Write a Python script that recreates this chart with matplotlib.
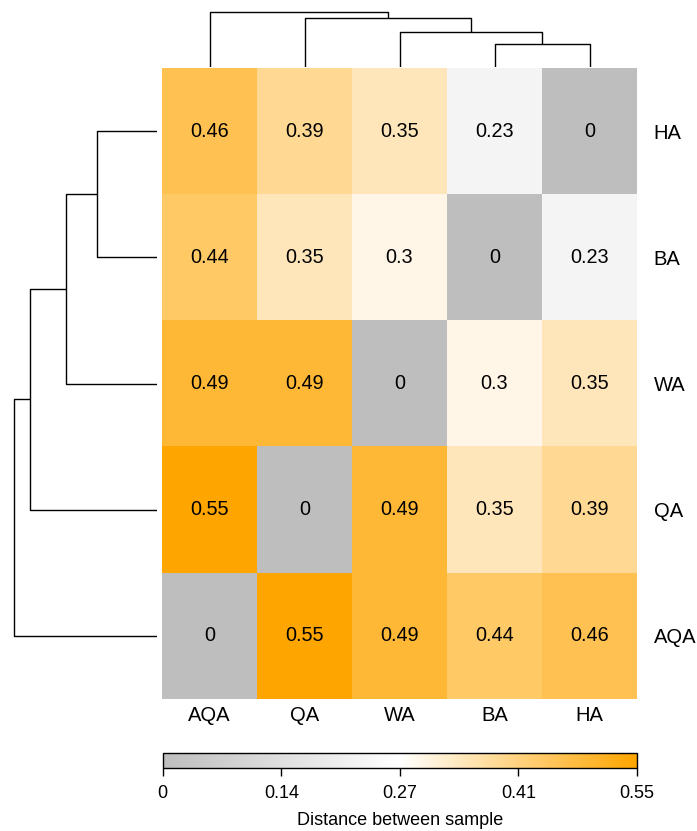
import matplotlib
matplotlib.use("Agg")
import matplotlib.pyplot as plt
import numpy as np
from matplotlib.colors import LinearSegmentedColormap

plt.rcParams["font.family"] = ["Liberation Sans", "DejaVu Sans"]

# Sample distance matrix (rows top to bottom, columns left to right)
row_labels = ["HA", "BA", "WA", "QA", "AQA"]
col_labels = ["AQA", "QA", "WA", "BA", "HA"]
dist = [
    [0.46, 0.39, 0.35, 0.23, 0],
    [0.44, 0.35, 0.3, 0, 0.23],
    [0.49, 0.49, 0, 0.3, 0.35],
    [0.55, 0, 0.49, 0.35, 0.39],
    [0, 0.55, 0.49, 0.44, 0.46],
]

# Complete-linkage merges: (child a, child b, height); ints point to earlier merges
merges = [("BA", "HA", 0.23), ("WA", 0, 0.35), ("QA", 1, 0.49), ("AQA", 2, 0.55)]

cbar_ticks = [0, 0.1375, 0.275, 0.4125, 0.55]
cbar_ticklabels = ["0", "0.14", "0.27", "0.41", "0.55"]

W, H = 697, 831
fig = plt.figure(figsize=(W / 100, H / 100), dpi=100)


def px_axes(x0, y0, x1, y1):
    # axes from pixel box (top-left origin)
    return fig.add_axes([x0 / W, 1 - y1 / H, (x1 - x0) / W, (y1 - y0) / H])


cmap = LinearSegmentedColormap.from_list("gw_or", ["#BEBEBE", "#FFFFFF", "#FFA500"])

# Heatmap
ax = px_axes(162, 68, 637, 699)
data = np.array(dist)
im = ax.imshow(data, cmap=cmap, vmin=0, vmax=0.55, aspect="auto",
               extent=(0, 5, 5, 0), interpolation="nearest")
for i in range(len(row_labels)):
    for j in range(len(col_labels)):
        ax.text(j + 0.5, i + 0.5, f"{dist[i][j]:g}", ha="center", va="center",
                fontsize=14.3, color="black")
ax.set_xticks(np.arange(len(col_labels)) + 0.5)
ax.set_xticklabels(col_labels, fontsize=14.5)
ax.set_yticks(np.arange(len(row_labels)) + 0.5)
ax.set_yticklabels(row_labels, fontsize=14.5)
ax.yaxis.tick_right()
ax.tick_params(length=0)
ax.tick_params(axis="x", pad=5)
ax.tick_params(axis="y", pad=12)
for s in ax.spines.values():
    s.set_visible(False)


def draw_dendro(dax, order, vertical):
    pos = {name: i + 0.5 for i, name in enumerate(order)}
    hgt = {name: 0.0 for name in order}
    for k, (a, b, h) in enumerate(merges):
        xs = [pos[a], pos[a], pos[b], pos[b]]
        ys = [hgt[a], h, h, hgt[b]]
        if vertical:
            dax.plot(xs, ys, color="black", lw=1.0, solid_capstyle="butt")
        else:
            dax.plot(ys, xs, color="black", lw=1.0, solid_capstyle="butt")
        pos[k] = (pos[a] + pos[b]) / 2
        hgt[k] = h
    dax.axis("off")


# Column dendrogram
tax = px_axes(162, 5, 637, 67)
draw_dendro(tax, col_labels, True)
tax.set_xlim(0, 5)
tax.set_ylim(0, 0.62)

# Row dendrogram
lax = px_axes(10, 68, 157.3, 699)
draw_dendro(lax, row_labels, False)
lax.set_ylim(5, 0)
lax.set_xlim(0.5654, 0)

# Colour key
cax = px_axes(162.7, 752.7, 637, 768)
cb = fig.colorbar(im, cax=cax, orientation="horizontal")
cb.set_ticks(cbar_ticks)
cb.set_ticklabels(cbar_ticklabels)
cb.outline.set_linewidth(1.0)
cax.tick_params(length=6, width=1.0, labelsize=13, pad=6.5)
cb.set_label("Distance between sample", fontsize=13, labelpad=7)

plt.savefig("out.png", dpi=100)
